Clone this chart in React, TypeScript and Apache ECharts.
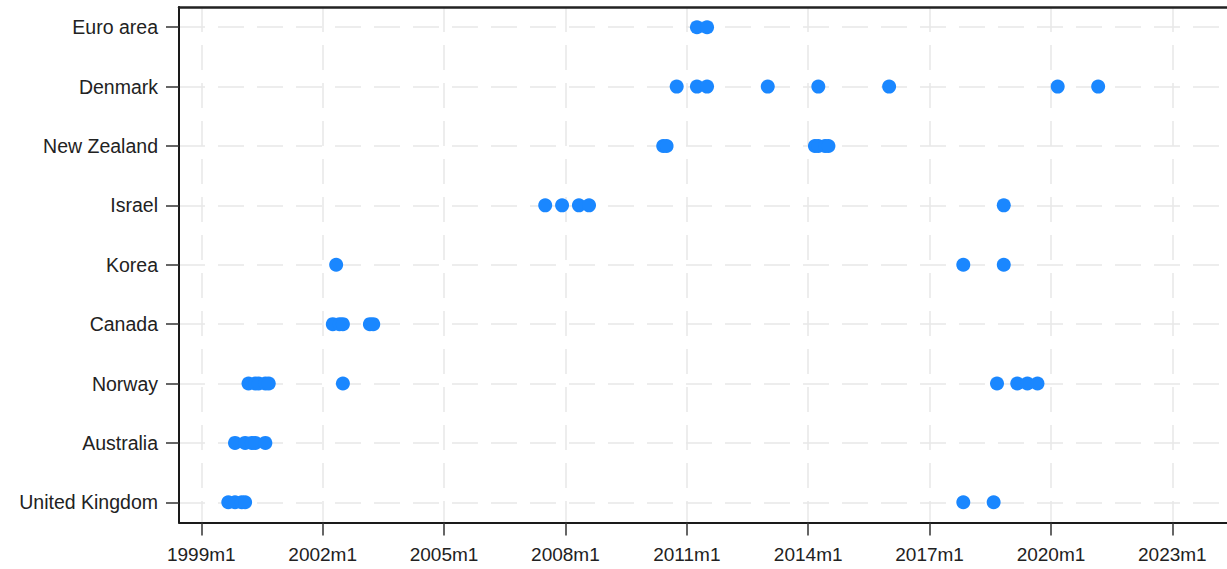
import React, { useEffect, useRef } from "react";
import * as echarts from "echarts";

// Countries from bottom (index 0) to top (index 8)
const countries = [
  "United Kingdom",
  "Australia",
  "Norway",
  "Canada",
  "Korea",
  "Israel",
  "New Zealand",
  "Denmark",
  "Euro area",
];

const ukDates = ["1999m9", "1999m11", "2000m1", "2000m2", "2017m11", "2018m8"];
const australiaDates = ["1999m11", "2000m2", "2000m4", "2000m5", "2000m8"];
const norwayDates = ["2000m3", "2000m5", "2000m6", "2000m8", "2000m9", "2002m7", "2018m9", "2019m3", "2019m6", "2019m9"];
const canadaDates = ["2002m4", "2002m6", "2002m7", "2003m3", "2003m4"];
const koreaDates = ["2002m5", "2017m11", "2018m11"];
const israelDates = ["2007m7", "2007m12", "2008m5", "2008m8", "2018m11"];
const newZealandDates = ["2010m6", "2010m7", "2014m3", "2014m4", "2014m6", "2014m7"];
const denmarkDates = ["2010m10", "2011m4", "2011m7", "2013m1", "2014m4", "2016m1", "2020m3", "2021m3"];
const euroAreaDates = ["2011m4", "2011m7"];

const datesByCountry = [
  ukDates,
  australiaDates,
  norwayDates,
  canadaDates,
  koreaDates,
  israelDates,
  newZealandDates,
  denmarkDates,
  euroAreaDates,
];

const xTickLabels = ["1999m1", "2002m1", "2005m1", "2008m1", "2011m1", "2014m1", "2017m1", "2020m1", "2023m1"];

const toYear = (s: string) => {
  const [y, m] = s.split("m").map(Number);
  return y + (m - 1) / 12;
};

const FONT = 'Arial, "Liberation Sans", sans-serif';
const DOT = "#1a87ff";
const GRID = "#e8e8e8";

export default function App() {
  const ref = useRef<HTMLDivElement>(null);

  useEffect(() => {
    if (!ref.current) return;
    const chart = echarts.init(ref.current, undefined, { renderer: "svg" });
    const xTicks = xTickLabels.map(toYear);
    const yTicks = countries.map((_, i) => i);

    const series = datesByCountry.map((dates, i) => ({
      name: countries[i],
      type: "scatter" as const,
      symbol: "circle",
      symbolSize: 14,
      itemStyle: { color: DOT, opacity: 1 },
      data: dates.map((d) => [toYear(d), i]),
      z: 5,
    }));

    chart.setOption({
      animation: false,
      backgroundColor: "#ffffff",
      grid: { left: 179, right: 0, top: 7, bottom: 46.5, containLabel: false },
      xAxis: [
        {
          type: "value",
          min: 1998.449,
          max: 2024.351,
          axisLine: { show: true, onZero: false, lineStyle: { color: "#1a1a1a", width: 2 } },
          axisTick: {
            show: true,
            customValues: xTicks,
            length: 13,
            lineStyle: { color: "#333", width: 1.5 },
          },
          axisLabel: {
            show: true,
            customValues: xTicks,
            margin: 22,
            fontSize: 19,
            fontFamily: FONT,
            color: "#222",
            formatter: (v: number) => `${Math.round(v)}m1`,
          },
          splitLine: {
            show: true,
            lineStyle: { color: GRID, width: 1.5, type: [25, 13] },
          },
        },
        {
          type: "value",
          position: "top",
          min: 1998.449,
          max: 2024.351,
          axisLine: { show: true, onZero: false, lineStyle: { color: "#222", width: 2.5 } },
          axisTick: { show: false },
          axisLabel: { show: false },
          splitLine: { show: false },
        },
      ],
      yAxis: {
        type: "value",
        min: -0.34,
        max: 8.34,
        axisLine: { show: true, onZero: false, lineStyle: { color: "#1a1a1a", width: 2 } },
        axisTick: {
          show: true,
          customValues: yTicks,
          length: 13,
          lineStyle: { color: "#333", width: 1.5 },
        },
        axisLabel: {
          show: true,
          customValues: yTicks,
          margin: 21,
          fontSize: 19.5,
          fontFamily: FONT,
          color: "#222",
          formatter: (v: number) => countries[Math.round(v)] ?? "",
        },
        splitLine: {
          show: true,
          lineStyle: { color: GRID, width: 1.5, type: [26, 13] },
        },
      },
      series,
    });

    return () => chart.dispose();
  }, []);

  return (
    <div
      ref={ref}
      style={{ position: "fixed", left: 0, top: 0, width: 1227, height: 569, background: "#fff" }}
    />
  );
}
